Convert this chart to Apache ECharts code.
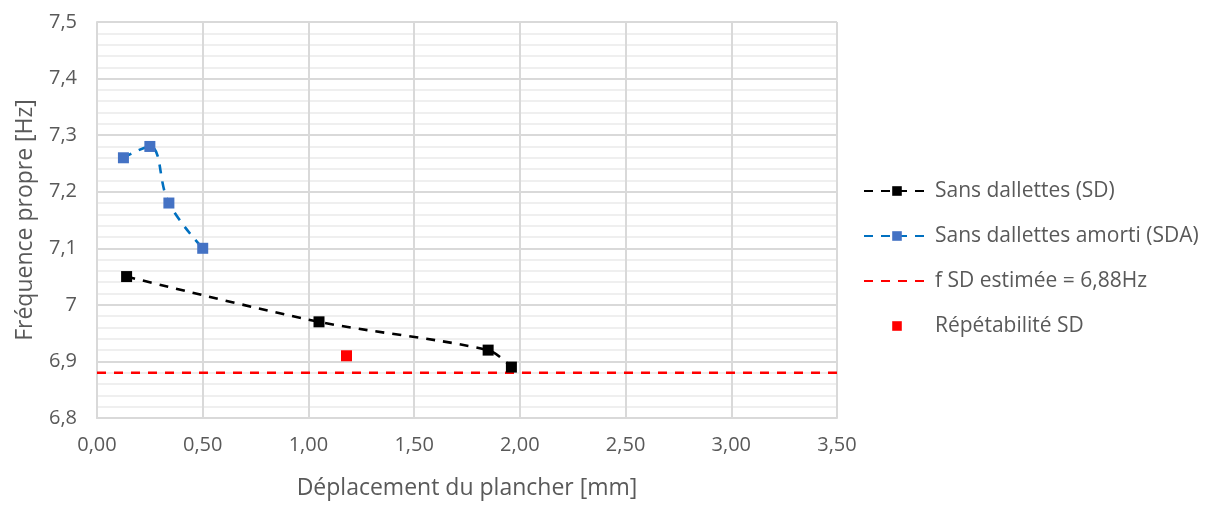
<!DOCTYPE html>
<html><head><meta charset="utf-8">
<script src="https://cdn.jsdelivr.net/npm/echarts@6/dist/echarts.min.js"></script>
<style>html,body{margin:0;padding:0;background:#fff}#c{width:1210px;height:505px}</style>
</head><body><div id="c"></div>
<script>
const sdX = [0.14, 1.05, 1.85, 1.96];
const sdY = [7.05, 6.97, 6.92, 6.89];
const sdaX = [0.125, 0.25, 0.34, 0.50];
const sdaY = [7.26, 7.28, 7.18, 7.10];
const estX = [0, 3.5];
const estY = [6.88, 6.88];
const repX = [1.18];
const repY = [6.91];
const names = ['Sans dallettes (SD)', 'Sans dallettes amorti (SDA)', 'f SD estimée = 6,88Hz', 'Répétabilité SD'];
const xTitle = 'Déplacement du plancher [mm]';
const yTitle = 'Fréquence propre [Hz]';

const pairs = (xs, ys) => xs.map((x, i) => [x, ys[i]]);
const FONT = 'Open Sans';
const TXT = '#595959';
const DASH = [9, 8];

const chart = echarts.init(document.getElementById('c'));
chart.setOption({
  animation: false,
  textStyle: { fontFamily: FONT, color: TXT },
  grid: { left: 97, right: 373, top: 22, bottom: 85 },
  xAxis: {
    type: 'value', min: 0, max: 3.5, interval: 0.5,
    name: xTitle, nameLocation: 'middle', nameGap: 59,
    nameTextStyle: { fontSize: 23, color: TXT, fontFamily: FONT },
    axisLine: { show: true, lineStyle: { color: '#d9d9d9', width: 2 } },
    axisTick: { show: false },
    axisLabel: { fontSize: 20, color: TXT, margin: 17, formatter: v => v.toFixed(2).replace('.', ',') },
    splitLine: { show: true, lineStyle: { color: '#d9d9d9', width: 2 } }
  },
  yAxis: {
    type: 'value', min: 6.8, max: 7.5, interval: 0.1,
    name: yTitle, nameLocation: 'middle', nameGap: 60, nameRotate: 90,
    nameTextStyle: { fontSize: 23, color: TXT, fontFamily: FONT },
    axisLine: { show: true, lineStyle: { color: '#d9d9d9', width: 2 } },
    axisTick: { show: false },
    axisLabel: { fontSize: 20, color: TXT, margin: 20, formatter: v => { const r = Math.round(v * 10) / 10; return (Number.isInteger(r) ? String(r) : r.toFixed(1)).replace('.', ','); } },
    splitLine: { show: true, lineStyle: { color: '#d9d9d9', width: 2 } },
    minorTick: { show: false, splitNumber: 5 },
    minorSplitLine: { show: true, lineStyle: { color: '#efefef', width: 2 } }
  },
  legend: {
    orient: 'vertical', left: 858, top: 174, itemGap: 21,
    itemWidth: 66, itemHeight: 12,
    textStyle: { fontSize: 21, lineHeight: 24, color: TXT, fontFamily: FONT },
    data: [names[0], names[1], { name: names[2], itemStyle: { opacity: 0 } }, names[3]]
  },
  series: [
    { name: names[2], type: 'line', data: pairs(estX, estY), symbol: 'none', z: 1,
      lineStyle: { color: '#ff0000', width: 2.6, type: DASH }, itemStyle: { color: '#ff0000' } },
    { name: names[0], type: 'line', data: pairs(sdX, sdY), smooth: 0.3, symbol: 'rect', symbolSize: 11, z: 3,
      lineStyle: { color: '#000000', width: 2.6, type: DASH }, itemStyle: { color: '#000000' } },
    { name: names[1], type: 'line', data: pairs(sdaX, sdaY), smooth: 0.4, symbol: 'rect', symbolSize: 11, z: 3,
      lineStyle: { color: '#0070c0', width: 2.6, type: DASH }, itemStyle: { color: '#4472c4' } },
    { name: names[3], type: 'line', data: pairs(repX, repY), symbol: 'rect', symbolSize: 11, z: 3,
      lineStyle: { width: 0, opacity: 0 }, itemStyle: { color: '#ff0000' } }
  ]
});
</script></body></html>
